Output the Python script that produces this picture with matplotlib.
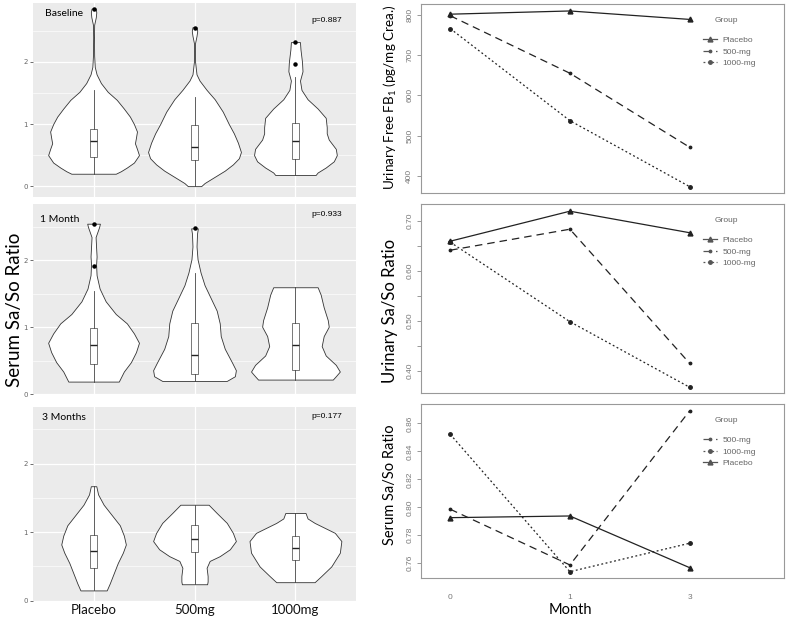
import matplotlib.pyplot as plt

W, H = 787, 618

# ---- left column: serum Sa/So ratio by group (violin + box) ----
groups = ['Placebo', '500mg', '1000mg']

# violin outlines: value levels and half widths
base_placebo_y = [0.20, 0.24, 0.30, 0.38, 0.50, 0.60, 0.69, 0.78, 0.88, 1.00, 1.12, 1.25,
                  1.39, 1.52, 1.66, 1.80, 1.92, 2.10, 2.40, 2.60, 2.72, 2.80, 2.86]
base_placebo_w = [0.22, 0.27, 0.33, 0.40, 0.45, 0.43, 0.41, 0.42, 0.43, 0.40, 0.36, 0.30,
                  0.23, 0.14, 0.073, 0.03, 0.012, 0.006, 0.004, 0.006, 0.022, 0.027, 0.02]
base_500_y = [0.00, 0.05, 0.15, 0.25, 0.35, 0.45, 0.55, 0.70, 0.85, 1.00, 1.20, 1.40,
              1.55, 1.70, 1.80, 2.00, 2.30, 2.42, 2.50, 2.56]
base_500_w = [0.066, 0.10, 0.20, 0.30, 0.38, 0.44, 0.46, 0.43, 0.39, 0.34, 0.28, 0.20,
              0.12, 0.05, 0.02, 0.006, 0.005, 0.02, 0.027, 0.02]
base_1000_y = [0.18, 0.22, 0.30, 0.40, 0.50, 0.60, 0.75, 0.85, 0.95, 1.10, 1.25, 1.40,
               1.55, 1.70, 1.85, 2.00, 2.20, 2.32]
base_1000_w = [0.20, 0.22, 0.30, 0.38, 0.41, 0.40, 0.33, 0.31, 0.31, 0.30, 0.22, 0.12,
               0.06, 0.045, 0.07, 0.065, 0.05, 0.045]

m1_placebo_y = [0.19, 0.34, 0.48, 0.63, 0.77, 0.91, 1.06, 1.20, 1.39, 1.58, 1.78, 1.94,
                2.06, 2.20, 2.35, 2.50, 2.55]
m1_placebo_w = [0.25, 0.30, 0.37, 0.42, 0.45, 0.40, 0.33, 0.22, 0.12, 0.06, 0.03, 0.025,
                0.03, 0.025, 0.02, 0.055, 0.063]
m1_500_y = [0.20, 0.27, 0.36, 0.48, 0.68, 0.87, 1.06, 1.25, 1.44, 1.63, 1.82, 2.02,
            2.21, 2.40, 2.48]
m1_500_w = [0.32, 0.40, 0.41, 0.37, 0.30, 0.26, 0.25, 0.22, 0.16, 0.10, 0.06, 0.03,
            0.02, 0.025, 0.033]
m1_1000_y = [0.22, 0.27, 0.34, 0.44, 0.58, 0.72, 0.87, 1.01, 1.11, 1.30, 1.49, 1.60]
m1_1000_w = [0.37, 0.40, 0.44, 0.40, 0.30, 0.26, 0.28, 0.33, 0.32, 0.28, 0.25, 0.22]

m3_placebo_y = [0.15, 0.25, 0.40, 0.55, 0.70, 0.82, 0.95, 1.10, 1.25, 1.40, 1.55, 1.67]
m3_placebo_w = [0.13, 0.16, 0.20, 0.24, 0.29, 0.32, 0.30, 0.26, 0.18, 0.10, 0.045, 0.027]
m3_500_y = [0.24, 0.28, 0.36, 0.48, 0.58, 0.65, 0.75, 0.87, 0.99, 1.135, 1.28, 1.40]
m3_500_w = [0.125, 0.13, 0.13, 0.12, 0.15, 0.25, 0.35, 0.41, 0.38, 0.32, 0.22, 0.14]
m3_1000_y = [0.27, 0.36, 0.50, 0.70, 0.87, 0.99, 1.135, 1.20, 1.28]
m3_1000_w = [0.19, 0.256, 0.355, 0.44, 0.455, 0.39, 0.19, 0.12, 0.10]

# box plot summaries (q1, median, q3, whisker ends, outliers)
base_q1 = [0.47, 0.42, 0.43]
base_med = [0.73, 0.63, 0.73]
base_q3 = [0.92, 0.99, 1.01]
base_lo = [0.20, 0.00, 0.18]
base_hi = [1.55, 1.43, 1.75]
base_out = [[2.85], [2.55], [1.97, 2.32]]

m1_q1 = [0.46, 0.30, 0.36]
m1_med = [0.73, 0.58, 0.73]
m1_q3 = [0.99, 1.07, 1.06]
m1_lo = [0.19, 0.20, 0.22]
m1_hi = [1.54, 1.82, 1.60]
m1_out = [[1.92, 2.55], [2.48], []]

m3_q1 = [0.47, 0.71, 0.60]
m3_med = [0.73, 0.90, 0.77]
m3_q3 = [0.96, 1.10, 0.94]
m3_lo = [0.15, 0.24, 0.27]
m3_hi = [1.67, 1.40, 1.28]
m3_out = [[], [], []]

panel_titles = ['Baseline', '1 Month', '3 Months']
p_values = ['p=0.887', 'p=0.933', 'p=0.177']

# ---- right column: group means over time ----
months = ['0', '1', '3']
ufb_placebo = [802, 810, 789]
ufb_500 = [798, 655, 471]
ufb_1000 = [766, 537, 373]
usa_placebo = [0.659, 0.719, 0.676]
usa_500 = [0.641, 0.683, 0.415]
usa_1000 = [0.657, 0.498, 0.367]
ssa_placebo = [0.7926, 0.7938, 0.7569]
ssa_500 = [0.7986, 0.7588, 0.8688]
ssa_1000 = [0.8521, 0.7540, 0.7743]


def box(px0, py0, px1, py1):
    # pixel box -> figure fraction rect
    return [px0 / W, 1 - py1 / H, (px1 - px0) / W, (py1 - py0) / H]


def ftext(px, py, s, **kw):
    fig.text(px / W, 1 - py / H, s, **kw)


fig = plt.figure(figsize=(W / 100, H / 100), dpi=100)

left_boxes = [box(33, 3, 356, 196.7), box(33, 204.3, 356, 394.3), box(33, 406.7, 356, 600.7)]
left_ylims = [(-0.17, 2.95), (0.11, 2.84), (0.01, 2.83)]
violins = [
    [(base_placebo_y, base_placebo_w), (base_500_y, base_500_w), (base_1000_y, base_1000_w)],
    [(m1_placebo_y, m1_placebo_w), (m1_500_y, m1_500_w), (m1_1000_y, m1_1000_w)],
    [(m3_placebo_y, m3_placebo_w), (m3_500_y, m3_500_w), (m3_1000_y, m3_1000_w)],
]
stats = [
    (base_q1, base_med, base_q3, base_lo, base_hi, base_out),
    (m1_q1, m1_med, m1_q3, m1_lo, m1_hi, m1_out),
    (m3_q1, m3_med, m3_q3, m3_lo, m3_hi, m3_out),
]

for i in range(3):
    ax = fig.add_axes(left_boxes[i])
    ax.set_facecolor('#EBEBEB')
    for s in ax.spines.values():
        s.set_visible(False)
    ax.set_axisbelow(True)
    pos = [1, 2, 3]
    for j, (vy, vw) in enumerate(violins[i]):
        ax.fill_betweenx(vy, [pos[j] - w for w in vw], [pos[j] + w for w in vw],
                         facecolor='white', edgecolor='#333333', lw=0.6, zorder=2)
    q1, med, q3, lo, hi, out = stats[i]
    bstats = [dict(q1=q1[j], med=med[j], q3=q3[j], whislo=lo[j], whishi=hi[j],
                   fliers=out[j]) for j in range(3)]
    ax.bxp(bstats, positions=pos, widths=0.075, showcaps=False, patch_artist=True,
           boxprops=dict(facecolor='white', edgecolor='#444444', lw=0.5),
           whiskerprops=dict(color='#444444', lw=0.6),
           medianprops=dict(color='#222222', lw=1.0),
           flierprops=dict(marker='o', markerfacecolor='black', markeredgecolor='black',
                           markersize=2.2),
           zorder=3)
    ax.set_xlim(0.4, 3.6)
    ax.set_ylim(*left_ylims[i])
    ax.set_xticks(pos)
    ax.set_yticks([0, 1, 2])
    ax.set_yticks([0.5, 1.5, 2.5], minor=True)
    ax.grid(True, which='major', color='white', lw=0.9)
    ax.grid(True, which='minor', axis='y', color='white', lw=0.45)
    ax.tick_params(axis='y', which='major', length=2.2, width=0.6, color='#555555',
                   labelsize=5, labelcolor='#666666', pad=1.5)
    ax.tick_params(axis='x', length=0)
    ax.tick_params(which='minor', length=0)
    if i < 2:
        ax.set_xticklabels([])
    else:
        ax.set_xticklabels(groups, fontsize=9.5, family='Lato', color='#111111')
        ax.tick_params(axis='x', pad=2.5)

ftext(45, 14, panel_titles[0], fontsize=7.5, family='Lato', va='center')
ftext(40, 220, panel_titles[1], fontsize=7.5, family='Lato', va='center')
ftext(42, 418, panel_titles[2], fontsize=7.5, family='Lato', va='center')
ftext(342, 20, p_values[0], fontsize=6, family='Liberation Sans', ha='right', va='center')
ftext(342, 214, p_values[1], fontsize=6, family='Liberation Sans', ha='right', va='center')
ftext(342, 417, p_values[2], fontsize=6, family='Liberation Sans', ha='right', va='center')
ftext(15, 310, 'Serum Sa/So Ratio', fontsize=13.5, family='Lato', rotation=90,
      ha='center', va='center')

# ---- right column line plots ----
right_px = [(421, 4.3, 784, 192.7), (421, 204.3, 784, 392.7), (421, 404.3, 784, 577.7)]
right_ylims = [(357.7, 826.6), (0.356, 0.7328), (0.7497, 0.8736)]
right_ticks = [[400, 500, 600, 700, 800],
               [0.40, 0.45, 0.50, 0.55, 0.60, 0.65, 0.70],
               [0.76, 0.78, 0.80, 0.82, 0.84, 0.86]]
right_ticklabels = [['400', '500', '600', '700', '800'],
                    ['0.40', '', '0.50', '', '0.60', '', '0.70'],
                    ['0.76', '0.78', '0.80', '0.82', '0.84', '0.86']]
series = [(ufb_placebo, ufb_500, ufb_1000),
          (usa_placebo, usa_500, usa_1000),
          (ssa_placebo, ssa_500, ssa_1000)]
ylabels = [r'Urinary Free FB$_\mathregular{1}$ (pg/mg Crea.)', 'Urinary Sa/So Ratio',
           'Serum Sa/So Ratio']
ylabel_pos = [(390, 97), (390, 311), (390, 485)]
ylabel_size = [9.7, 12, 10.5]

line_col = '#222222'
for i in range(3):
    px0, py0, px1, py1 = right_px[i]
    ax = fig.add_axes(box(px0, py0, px1, py1))
    for s in ax.spines.values():
        s.set_color('#999999')
        s.set_linewidth(0.8)
    x = [1, 2, 3]
    pl, p500, p1000 = series[i]
    h_pl, = ax.plot(x, pl, color=line_col, lw=0.9, ls='-', marker='^', ms=3.5,
                    label='Placebo')
    h_5, = ax.plot(x, p500, color=line_col, lw=0.9, ls=(0, (6, 4)), marker='.', ms=3.5,
                   label='500-mg')
    h_10, = ax.plot(x, p1000, color=line_col, lw=0.9, ls=(0, (1.5, 2)), marker='o',
                    ms=2.5, label='1000-mg')
    ax.set_xlim(0.755, 3.79)
    ax.set_ylim(*right_ylims[i])
    ax.set_yticks(right_ticks[i])
    ax.set_yticklabels(right_ticklabels[i], rotation=90, va='center')
    ax.tick_params(axis='y', length=3.1, width=0.6, color='#888888', labelsize=6,
                   labelcolor='#777777', pad=2.5)
    for t in ax.get_yticklabels():
        t.set_family('Liberation Sans')
    ax.set_xticks(x)
    if i < 2:
        ax.set_xticklabels([])
        ax.tick_params(axis='x', length=0)
    else:
        ax.set_xticklabels(months, fontsize=6, color='#777777', family='Liberation Sans')
        ax.tick_params(axis='x', length=0, pad=12)
    handles = [h_pl, h_5, h_10] if i < 2 else [h_5, h_10, h_pl]
    leg = ax.legend(handles=handles, loc='upper left', numpoints=1,
                    bbox_to_anchor=(703 / W, 1 - (py0 + 32) / H),
                    bbox_transform=fig.transFigure, frameon=False, fontsize=6,
                    handlelength=1.7, handletextpad=0.6,
                    labelspacing=0.45, borderpad=0, borderaxespad=0)
    plt.setp(leg.get_texts(), color='#666666', family='Liberation Sans')
    for ln in leg.get_lines():
        ln.set_color('#555555')
    ftext(726, py0 + 16.5, 'Group', fontsize=6, color='#666666',
          family='Liberation Sans', ha='center', va='center')
    ftext(ylabel_pos[i][0], ylabel_pos[i][1], ylabels[i], fontsize=ylabel_size[i],
          family='Lato', rotation=90, ha='center', va='center')

ftext(570, 610, 'Month', fontsize=10.5, family='Lato', ha='center', va='center')

fig.savefig('out.png', dpi=100)
